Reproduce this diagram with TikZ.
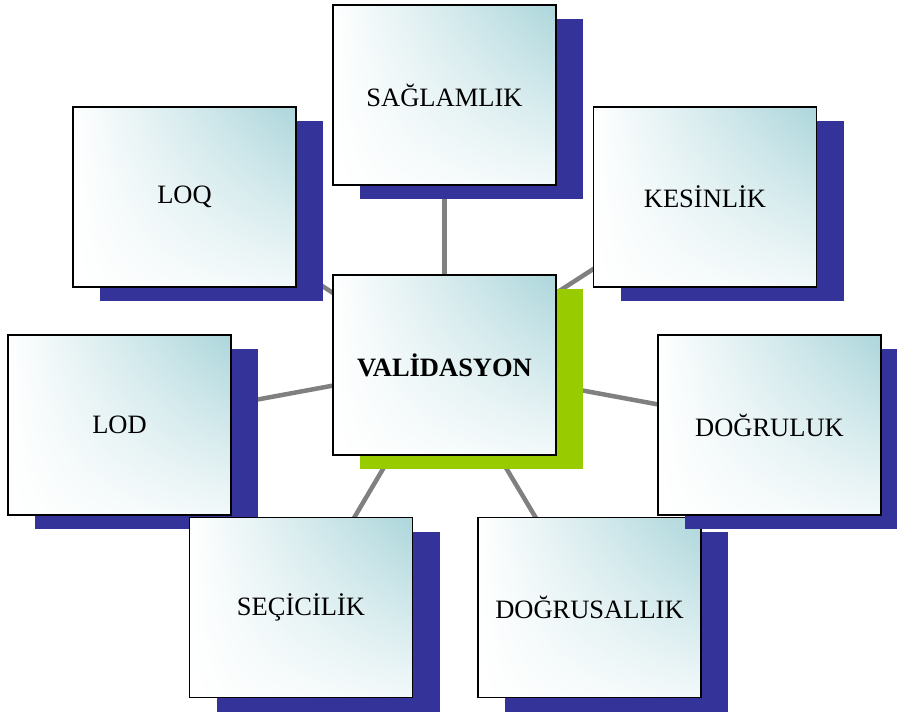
\documentclass[tikz,border=0pt]{standalone}
\usepackage{fontspec}
\setmainfont{Liberation Serif}
\usepackage{tikz}
\usetikzlibrary{shadows}
\usetikzlibrary{shadings}
\usetikzlibrary{backgrounds}
\definecolor{kutumavi}{HTML}{333399}
\definecolor{kutuyesil}{HTML}{99CC00}
\definecolor{kutuacik}{HTML}{ACD6DB}
\definecolor{baggri}{HTML}{808080}
\tikzset{
  kutu/.style={draw=black, line width=1.6pt, minimum width=223pt, minimum height=180pt,
    upper right=kutuacik, upper left=white, lower left=white, lower right=kutuacik!15,
    font=\fontsize{26.5}{30}\selectfont, inner sep=0pt},
  mavigolge/.style={drop shadow={shadow xshift=27pt, shadow yshift=-14pt, fill=kutumavi, opacity=1}},
  yesilgolge/.style={drop shadow={shadow xshift=27pt, shadow yshift=-14pt, fill=kutuyesil, opacity=1}},
  bag/.style={draw=baggri, line width=4.5pt}
}

\begin{document}
\begin{tikzpicture}[x=1pt,y=-1pt]
  \useasboundingbox (0,0) rectangle (897,716);
  % merkez kutu
  \node[kutu,yesilgolge] (val) at (444.5,365) {\textbf{VAL\.IDASYON}};
  % dis kutular
  \foreach \ad/\x/\y/\yazi in {sag/444.5/95/SA\u{G}LAMLIK, loq/184.5/197/LOQ,
      kes/705/197/KES\.INL\.IK, lod/119.5/425/LOD, sec/301/607.5/SE\c{C}\.IC\.IL\.IK,
      dgs/589.5/607.5/DO\u{G}RUSALLIK, dog/769.5/425/DO\u{G}RULUK}
    \node[kutu,mavigolge] (\ad) at (\x,\y) {\yazi};
  % baglantilar
  \begin{pgfonlayer}{background}
    \foreach \ad in {sag,loq,kes,lod,sec,dgs,dog}
      \draw[bag] (val.center) -- (\ad.center);
  \end{pgfonlayer}
\end{tikzpicture}
\end{document}
